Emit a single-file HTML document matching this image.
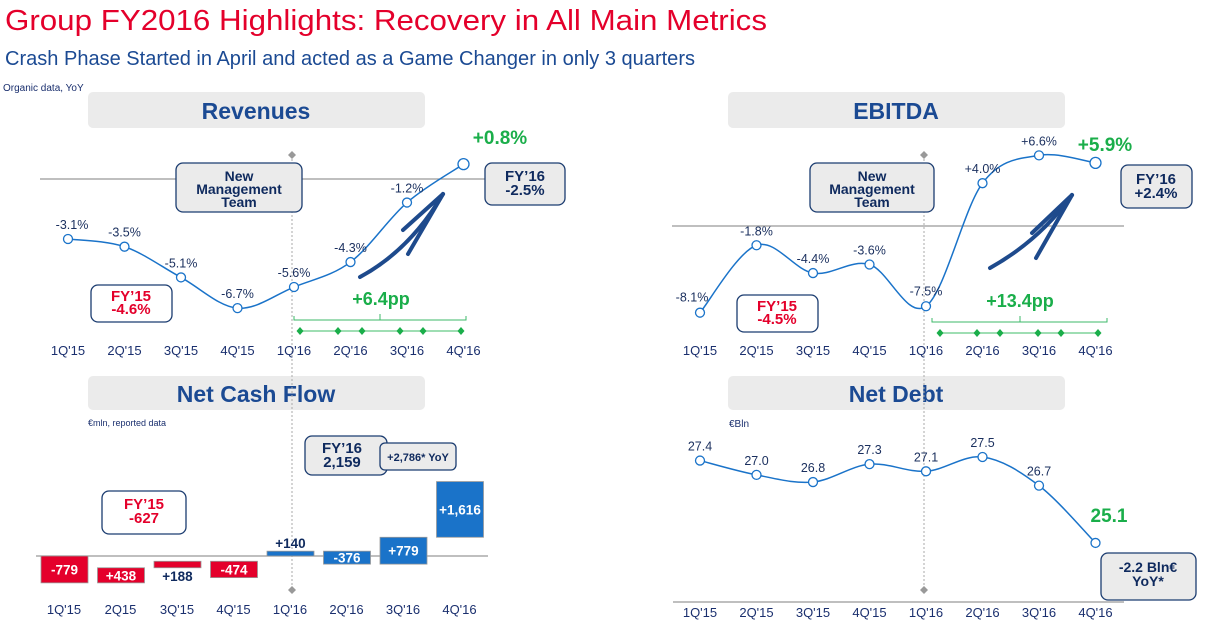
<!DOCTYPE html>
<html><head><meta charset="utf-8"><style>
html,body{margin:0;padding:0;background:#fff;}
svg{display:block;font-family:"Liberation Sans",sans-serif;}
</style></head><body>
<svg id="s" width="1210" height="634" viewBox="0 0 1210 634">
<text x="5" y="30" font-size="29" fill="#e4002b" textLength="762" lengthAdjust="spacingAndGlyphs">Group FY2016 Highlights: Recovery in All Main Metrics</text>
<text x="5" y="65" font-size="20" fill="#1b4a93" textLength="690" lengthAdjust="spacingAndGlyphs">Crash Phase Started in April and acted as a Game Changer in only 3 quarters</text>
<text x="3" y="91" font-size="10" fill="#1a2f6e">Organic data, YoY</text>

<g>
<rect x="88" y="92" width="337" height="36" rx="5" fill="#ebebeb"/>
<text x="256" y="119" font-size="23" font-weight="bold" fill="#1b4a93" text-anchor="middle">Revenues</text>
<rect x="728" y="92" width="337" height="36" rx="5" fill="#ebebeb"/>
<text x="896" y="119" font-size="23" font-weight="bold" fill="#1b4a93" text-anchor="middle">EBITDA</text>
<rect x="88" y="376" width="337" height="34" rx="5" fill="#ebebeb"/>
<text x="256" y="402" font-size="23" font-weight="bold" fill="#1b4a93" text-anchor="middle">Net Cash Flow</text>
<rect x="728" y="376" width="337" height="34" rx="5" fill="#ebebeb"/>
<text x="896" y="402" font-size="23" font-weight="bold" fill="#1b4a93" text-anchor="middle">Net Debt</text>
</g>
<text x="88" y="426" font-size="9" fill="#1a2f6e">€mln, reported data</text>
<text x="729" y="427" font-size="10" fill="#1a2f6e">€Bln</text>

<line x1="292" y1="155" x2="292" y2="590" stroke="#aaa" stroke-dasharray="2,2"/>
<line x1="924" y1="155" x2="924" y2="590" stroke="#aaa" stroke-dasharray="2,2"/>
<path d="M292 151 l4 4 -4 4 -4 -4z M292 586 l4 4 -4 4 -4 -4z M924 151 l4 4 -4 4 -4 -4z M924 586 l4 4 -4 4 -4 -4z" fill="#999"/>

<line x1="40" y1="179" x2="490" y2="179" stroke="#999" stroke-width="1.3"/>
<line x1="672" y1="226" x2="1124" y2="226" stroke="#999" stroke-width="1.3"/>
<line x1="36" y1="556" x2="488" y2="556" stroke="#999" stroke-width="1.3"/>
<line x1="673" y1="602" x2="1124" y2="602" stroke="#999" stroke-width="1.3"/>

<g id="series"></g>

<g fill="none" stroke="#1e4a8c" stroke-linecap="round">
<path d="M360 277 Q410 250 443 194" stroke-width="4"/>
<path d="M443 194 L403 230" stroke-width="4"/><path d="M443 194 L408 254" stroke-width="4"/>
</g>
<g fill="none" stroke="#1e4a8c" stroke-linecap="round">
<path d="M990 268 Q1040 240 1072 195" stroke-width="4"/>
<path d="M1072 195 L1032 233" stroke-width="4"/><path d="M1072 195 L1036 258" stroke-width="4"/>
</g>

<g>
<rect x="176" y="163" width="126" height="49" rx="7" fill="#ebebeb" stroke="#1b3c70" stroke-width="1.3"/>
<text x="239" y="181" font-size="14" font-weight="bold" fill="#0f2a5e" text-anchor="middle"><tspan x="239">New</tspan><tspan x="239" dy="13">Management</tspan><tspan x="239" dy="13">Team</tspan></text>
<rect x="485" y="163" width="80" height="42" rx="7" fill="#ebebeb" stroke="#1b3c70" stroke-width="1.3"/>
<text x="525" y="181" font-size="15" font-weight="bold" fill="#0f2a5e" text-anchor="middle"><tspan x="525">FY’16</tspan><tspan x="525" dy="14">-2.5%</tspan></text>
<rect x="91" y="285" width="81" height="37" rx="7" fill="#fff" stroke="#1b3c70" stroke-width="1.3"/>
<text x="131" y="301" font-size="15" font-weight="bold" fill="#e4002b" text-anchor="middle"><tspan x="131">FY’15</tspan><tspan x="131" dy="13">-4.6%</tspan></text>
<text x="500" y="144" font-size="19" font-weight="bold" fill="#1aae4a" text-anchor="middle">+0.8%</text>
<text x="381" y="305" font-size="18" font-weight="bold" fill="#1aae4a" text-anchor="middle">+6.4pp</text>
<path d="M294 316 v4 h172 v-4 M380 320 v-6" fill="none" stroke="#3cb96a"/>
<line x1="300" y1="331" x2="461" y2="331" stroke="#7fd39a" stroke-width="1.5"/>
<g fill="#1aae4a" id="revd"></g>
</g>

<g>
<rect x="810" y="163" width="124" height="49" rx="7" fill="#ebebeb" stroke="#1b3c70" stroke-width="1.3"/>
<text x="872" y="181" font-size="14" font-weight="bold" fill="#0f2a5e" text-anchor="middle"><tspan x="872">New</tspan><tspan x="872" dy="13">Management</tspan><tspan x="872" dy="13">Team</tspan></text>
<rect x="1121" y="165" width="71" height="43" rx="7" fill="#ebebeb" stroke="#1b3c70" stroke-width="1.3"/>
<text x="1156" y="184" font-size="15" font-weight="bold" fill="#0f2a5e" text-anchor="middle"><tspan x="1156">FY’16</tspan><tspan x="1156" dy="14">+2.4%</tspan></text>
<rect x="737" y="295" width="81" height="37" rx="7" fill="#fff" stroke="#1b3c70" stroke-width="1.3"/>
<text x="777" y="311" font-size="15" font-weight="bold" fill="#e4002b" text-anchor="middle"><tspan x="777">FY’15</tspan><tspan x="777" dy="13">-4.5%</tspan></text>
<text x="1105" y="151" font-size="19" font-weight="bold" fill="#1aae4a" text-anchor="middle">+5.9%</text>
<text x="1020" y="307" font-size="18" font-weight="bold" fill="#1aae4a" text-anchor="middle">+13.4pp</text>
<path d="M932 318 v4 h175 v-4 M1020 322 v-6" fill="none" stroke="#3cb96a"/>
<line x1="940" y1="333" x2="1098" y2="333" stroke="#7fd39a" stroke-width="1.5"/>
<g fill="#1aae4a" id="ebd"></g>
</g>

<g>
<rect x="102" y="491" width="84" height="43" rx="7" fill="#fff" stroke="#1b3c70" stroke-width="1.3"/>
<text x="144" y="509" font-size="15" font-weight="bold" fill="#e4002b" text-anchor="middle"><tspan x="144">FY’15</tspan><tspan x="144" dy="14">-627</tspan></text>
<rect x="305" y="436" width="82" height="39" rx="7" fill="#ebebeb" stroke="#1b3c70" stroke-width="1.3"/>
<text x="342" y="453" font-size="15" font-weight="bold" fill="#0f2a5e" text-anchor="middle"><tspan x="342">FY’16</tspan><tspan x="342" dy="14">2,159</tspan></text>
<rect x="380" y="443" width="76" height="27" rx="5" fill="#ebebeb" stroke="#1b3c70" stroke-width="1.3"/>
<text x="418" y="461" font-size="11" font-weight="bold" fill="#0f2a5e" text-anchor="middle">+2,786* YoY</text>
</g>
<g>
<rect x="1101" y="553" width="95" height="47" rx="7" fill="#ebebeb" stroke="#1b3c70" stroke-width="1.3"/>
<text x="1148" y="572" font-size="14" font-weight="bold" fill="#0f2a5e" text-anchor="middle"><tspan x="1148">-2.2 Bln€</tspan><tspan x="1148" dy="14">YoY*</tspan></text>
<text x="1109" y="522" font-size="19" font-weight="bold" fill="#1aae4a" text-anchor="middle">25.1</text>
</g>
</svg>
<script>
const quarters=["1Q'15","2Q'15","3Q'15","4Q'15","1Q'16","2Q'16","3Q'16","4Q'16"];
const cashQuarters=["1Q'15","2Q15","3Q'15","4Q'15","1Q'16","2Q'16","3Q'16","4Q'16"];
const revenueValues=[-3.1,-3.5,-5.1,-6.7,-5.6,-4.3,-1.2,0.8];
const revenueLabels=["-3.1%","-3.5%","-5.1%","-6.7%","-5.6%","-4.3%","-1.2%",""];
const ebitdaValues=[-8.1,-1.8,-4.4,-3.6,-7.5,4.0,6.6,5.9];
const ebitdaLabels=["-8.1%","-1.8%","-4.4%","-3.6%","-7.5%","+4.0%","+6.6%",""];
const debtValues=[27.4,27.0,26.8,27.3,27.1,27.5,26.7,25.1];
const debtLabels=["27.4","27.0","26.8","27.3","27.1","27.5","26.7",""];
const cashStart=[0,-341,-153,-153,0,140,-236,543];
const cashEnd=[-779,-779,-341,-627,140,-236,543,2159];
const cashLabels=["-779","+438","+188","-474","+140","-376","+779","+1,616"];

const NS="http://www.w3.org/2000/svg";
const g=document.getElementById('series');
function mk(t,a,p){const e=document.createElementNS(NS,t);for(const k in a)e.setAttribute(k,a[k]);(p||g).appendChild(e);return e;}
const xL=i=>68+i*56.5, xR=i=>700+i*56.5;
const yRev=v=>179.5-v*19.2, yEb=v=>226-v*10.7, yDebt=v=>457-(v-27.5)*35.8, yCash=v=>556-v/29;
function smooth(pts){let d=`M${pts[0][0]},${pts[0][1]}`;for(let i=0;i<pts.length-1;i++){const p0=pts[Math.max(0,i-1)],p1=pts[i],p2=pts[i+1],p3=pts[Math.min(pts.length-1,i+2)];const c1=[p1[0]+(p2[0]-p0[0])/6,p1[1]+(p2[1]-p0[1])/6],c2=[p2[0]-(p3[0]-p1[0])/6,p2[1]-(p3[1]-p1[1])/6];d+=` C${c1[0]},${c1[1]} ${c2[0]},${c2[1]} ${p2[0]},${p2[1]}`;}return d;}
function lineSeries(vals,labels,xf,yf,name,tickY,lastR){
  const pts=vals.map((v,i)=>[xf(i),yf(v)]);
  const p=mk('path',{d:smooth(pts),fill:'none',stroke:'#1a73c9','stroke-width':1.5});
  
  
  pts.forEach((q,i)=>{
    const c=mk('circle',{cx:q[0],cy:q[1],r:i==7&&lastR?5.5:4.5,fill:'#fff',stroke:'#1a73c9','stroke-width':1.3});
    
    
    if(labels[i]){const t=mk('text',{x:q[0]-(name=='ebitda'&&i==0?8:(name=='revenue'&&i==0?-4:0)),y:q[1]-(name=='ebitda'&&(i==0||i==4)?11:10),'font-size':12.5,fill:'#1a2f5e','text-anchor':'middle'});t.textContent=labels[i];
    
    }
  });
  quarters.forEach((q,i)=>{const t=mk('text',{x:xf(i),y:tickY,'font-size':13,fill:'#1a2f6e','text-anchor':'middle'});t.textContent=q;
  
  });
}
lineSeries(revenueValues,revenueLabels,xL,yRev,'revenue',355,true);
lineSeries(ebitdaValues,ebitdaLabels,xR,yEb,'ebitda',355,true);
lineSeries(debtValues,debtLabels,xR,yDebt,'netdebt',617,false);
cashStart.forEach((s,i)=>{
  const e=cashEnd[i],x=64+i*56.5-23,y1=yCash(Math.max(s,e)),y2=yCash(Math.min(s,e));
  const r=mk('rect',{x:x,y:y1,width:47,height:Math.max(2,y2-y1),fill:i<4?'#e4002b':'#1a73c9',stroke:'#999','stroke-width':0.8});
  
  
  const h=y2-y1, inside=h>11;
  let ty=inside?(y1+y2)/2+5:(e>s? y1-3 : y2+13);
  const t=mk('text',{x:x+23.5,y:ty,'font-size':13.5,'font-weight':'bold',fill:inside?'#fff':'#0f2a5e','text-anchor':'middle'});t.textContent=cashLabels[i];
  
  
});
cashQuarters.forEach((q,i)=>{const t=mk('text',{x:64+i*56.5,y:614,'font-size':13,fill:'#1a2f6e','text-anchor':'middle'});t.textContent=q;

});
[300,338,362,400,423,461].forEach(x=>mk('path',{d:`M${x} 327 l3.5 4 -3.5 4 -3.5 -4z`},document.getElementById('revd')));
[940,977,1000,1038,1061,1098].forEach(x=>mk('path',{d:`M${x} 329 l3.5 4 -3.5 4 -3.5 -4z`},document.getElementById('ebd')));
</script>
</body></html>
